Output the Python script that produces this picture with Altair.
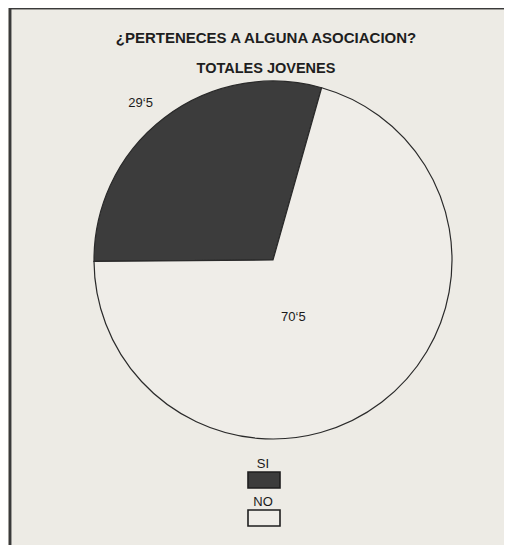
import math
import altair as alt
import pandas as pd

# ---- data ----
categories = ["SI", "NO"]
values = [29.5, 70.5]
labels = ["29\u20185", "70\u20185"]
order = [2, 1]

df = pd.DataFrame({"cat": categories, "value": values, "label": labels, "ord": order})

FONT = "Liberation Sans"
BG = "#edebe5"
colors = alt.Scale(domain=categories, range=["#3c3c3c", "#efede8"])

start = 0.275
theta = alt.Theta("value:Q", stack=True,
                  scale=alt.Scale(range=[start, start + 2 * math.pi]))

base = alt.Chart(df)

pie = base.mark_arc(outerRadius=179, stroke="#2a2a2a", strokeWidth=1.2).encode(
    theta=theta,
    fill=alt.Fill("cat:N", scale=colors, legend=None),
    order=alt.Order("ord:Q"),
)

lab_si = base.mark_text(
    font=FONT, fontSize=13, color="#1a1a1a", dx=-8, dy=6
).encode(theta=theta, radius=alt.value(205), text="label:N", order=alt.Order("ord:Q"),
         opacity=alt.condition(alt.datum.cat == "SI", alt.value(1), alt.value(0)))

lab_no = base.mark_text(
    font=FONT, fontSize=13, color="#1a1a1a", dx=-16, dy=9
).encode(theta=theta, radius=alt.value(60), text="label:N", order=alt.Order("ord:Q"),
         opacity=alt.condition(alt.datum.cat == "NO", alt.value(1), alt.value(0)))

ysc = alt.Scale(type="point", domain=categories, range=[392, 430], padding=0)

leg_box = base.mark_point(
    shape="M-1,-0.5L1,-0.5L1,0.5L-1,0.5Z", size=1024, filled=True,
    stroke="#1e1e1e", strokeWidth=1.6, opacity=1
).encode(
    x=alt.value(220),
    y=alt.Y("cat:N", scale=ysc, axis=None),
    fill=alt.Fill("cat:N", scale=colors, legend=None),
)

leg_txt = base.mark_text(
    font=FONT, fontSize=13, color="#1a1a1a", baseline="alphabetic", dy=-12
).encode(
    x=alt.value(219),
    y=alt.Y("cat:N", scale=ysc, axis=None),
    text="cat:N",
)

frame_top = alt.Chart(df).mark_rule(color="#3a3a3a", strokeWidth=2.5).encode(
    x=alt.value(-34), x2=alt.value(470), y=alt.value(-80)
)
frame_left = alt.Chart(df).mark_rule(color="#3a3a3a", strokeWidth=2.5).encode(
    x=alt.value(-34), y=alt.value(-80), y2=alt.value(470)
)

chart = alt.layer(frame_top, frame_left, pie, lab_si, lab_no, leg_box, leg_txt).properties(
    width=458,
    height=344,
    autosize=alt.AutoSizeParams(type="none"),
    padding={"left": 36, "top": 80, "right": 2, "bottom": 113},
    background=BG,
    title=alt.Title(
        "\u00bfPERTENECES A ALGUNA ASOCIACION?",
        subtitle="TOTALES JOVENES",
        font=FONT, fontSize=15, fontWeight="bold", color="#1e1e1e",
        subtitleFont=FONT, subtitleFontSize=14.5, subtitleFontWeight="bold",
        subtitleColor="#1e1e1e", subtitlePadding=16,
        anchor="middle", frame="group", offset=-69, dx=-7,
    ),
).configure_view(stroke=None)

chart.save("out.html", embed_options={"renderer": "svg", "actions": False})
